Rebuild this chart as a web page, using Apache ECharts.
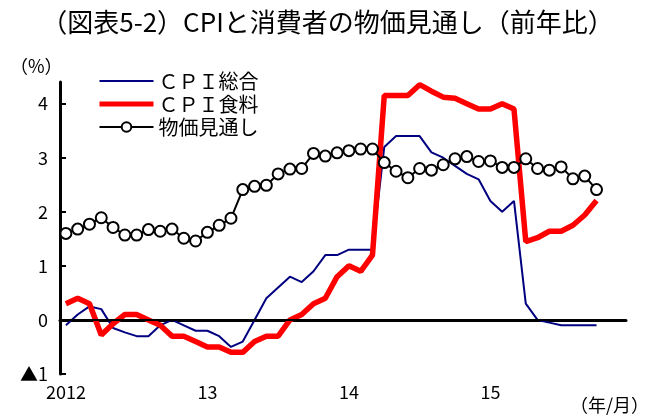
<!DOCTYPE html>
<html>
<head>
<meta charset="utf-8">
<script src="https://cdn.jsdelivr.net/npm/echarts/dist/echarts.min.js"></script>
<style>
  html, body { margin: 0; padding: 0; background: #fff; }
  #chart { width: 655px; height: 419px; }
</style>
</head>
<body>
<div id="chart"></div>
<script>
// 年ラベル（目盛）
const yearLabels = ['2012', '13', '14', '15']

// 月次カテゴリ 2012/1 〜 2015/12
const months = []
yearLabels.forEach((y, i) => {
  for (let m = 1; m <= 12; m++) months.push((2012 + i) + '/' + m)
})

// CPI総合（前年比, %）2012/1 〜 2015/10
const cpiTotal = [
  -0.1, 0.1, 0.25, 0.2, -0.15, -0.23, -0.3, -0.3, -0.1, 0.0, -0.1, -0.2,
  -0.2, -0.3, -0.5, -0.4, 0.0, 0.4, 0.6, 0.8, 0.7, 0.9, 1.2, 1.2,
  1.3, 1.3, 1.3, 3.2, 3.4, 3.4, 3.4, 3.1, 3.0, 2.85, 2.7, 2.6,
  2.2, 2.0, 2.2, 0.3, 0.0, -0.05, -0.1, -0.1, -0.1, -0.1
]

// CPI食料
const cpiFood = [
  0.3, 0.4, 0.3, -0.28, -0.07, 0.1, 0.1, 0.0, -0.1, -0.3, -0.3, -0.4,
  -0.5, -0.5, -0.6, -0.6, -0.4, -0.3, -0.3, 0.0, 0.1, 0.3, 0.4, 0.8,
  1.0, 0.9, 1.2, 4.15, 4.15, 4.15, 4.35, 4.23, 4.12, 4.1, 4.0, 3.9,
  3.9, 4.0, 3.9, 1.45, 1.52, 1.64, 1.64, 1.75, 1.94, 2.21
]

// 物価見通し
const expectation = [
  1.6, 1.68, 1.77, 1.89, 1.71, 1.57, 1.57, 1.67, 1.64, 1.68, 1.51, 1.46,
  1.62, 1.75, 1.88, 2.41, 2.47, 2.49, 2.7, 2.79, 2.8, 3.08, 3.03, 3.09,
  3.13, 3.16, 3.16, 2.91, 2.75, 2.63, 2.8, 2.77, 2.87, 2.98, 3.02, 2.93,
  2.94, 2.82, 2.82, 2.98, 2.8, 2.77, 2.83, 2.61, 2.66, 2.41
]

const font = '"Noto Sans CJK JP", sans-serif'

const chart = echarts.init(document.getElementById('chart'))

chart.setOption({
  animation: false,
  textStyle: { fontFamily: font, color: '#000' },
  title: {
    text: '（図表5-2）CPIと消費者の物価見通し（前年比）',
    left: 'center',
    top: 4,
    textStyle: { fontFamily: font, fontSize: 26, fontWeight: 'normal', color: '#000' }
  },
  legend: {
    orient: 'vertical',
    left: 97,
    top: 71,
    padding: 0,
    itemWidth: 54,
    itemHeight: 12,
    itemGap: 3,
    textStyle: { fontFamily: font, fontSize: 20, color: '#000' },
    data: [
      // 線だけの凡例（丸を消す）
      { name: 'ＣＰＩ総合', itemStyle: { opacity: 0 }, lineStyle: { width: 2 } },
      { name: 'ＣＰＩ食料', itemStyle: { opacity: 0 }, lineStyle: { width: 5 } },
      { name: '物価見通し', lineStyle: { width: 2 } }
    ]
  },
  grid: { left: 60, right: 29, top: 82, bottom: 45 },
  xAxis: {
    type: 'category',
    data: months,
    boundaryGap: true,
    axisLine: { lineStyle: { color: '#000', width: 3 } },
    axisTick: {
      interval: 11,
      length: 6,
      lineStyle: { color: '#000', width: 2 }
    },
    axisLabel: {
      interval: 11,
      fontSize: 18,
      color: '#000',
      margin: 9,
      formatter: (v, i) => yearLabels[Math.floor(i / 12)]
    },
    splitLine: { show: false }
  },
  yAxis: {
    type: 'value',
    min: -1,
    max: 4.4,
    interval: 1,
    axisLine: { show: true, lineStyle: { color: '#000', width: 3 } },
    axisTick: { show: true, inside: true, length: 6, lineStyle: { color: '#000', width: 2 } },
    axisLabel: {
      fontSize: 18,
      color: '#000',
      margin: 12,
      showMaxLabel: false,
      formatter: v => (v === -1 ? '▲1' : (Number.isInteger(v) ? String(v) : ''))
    },
    splitLine: { show: false }
  },
  graphic: [
    { type: 'text', left: 10, top: 57, style: { text: '（%）', font: '18px ' + font, fill: '#000' } },
    { type: 'text', left: 570, top: 396, style: { text: '（年/月）', font: '18px ' + font, fill: '#000' } }
  ],
  series: [
    {
      name: 'ＣＰＩ総合',
      type: 'line',
      data: cpiTotal,
      symbol: 'none',
      color: '#000080',
      lineStyle: { width: 2, color: '#000080' },
      z: 2,
      markLine: {
        silent: true,
        symbol: ['none', 'none'],
        label: { show: false },
        lineStyle: { color: '#000', width: 2, type: 'solid' },
        data: [{ yAxis: 0 }]
      }
    },
    {
      name: 'ＣＰＩ食料',
      type: 'line',
      data: cpiFood,
      symbol: 'none',
      color: '#ff0000',
      lineStyle: { width: 5.5, color: '#ff0000' },
      z: 3
    },
    {
      name: '物価見通し',
      type: 'line',
      data: expectation,
      symbol: 'circle',
      symbolSize: 11,
      showAllSymbol: true,
      color: '#000',
      lineStyle: { width: 2, color: '#000' },
      itemStyle: { color: '#fff', borderColor: '#000', borderWidth: 2 },
      z: 4
    }
  ]
})
</script>
</body>
</html>
